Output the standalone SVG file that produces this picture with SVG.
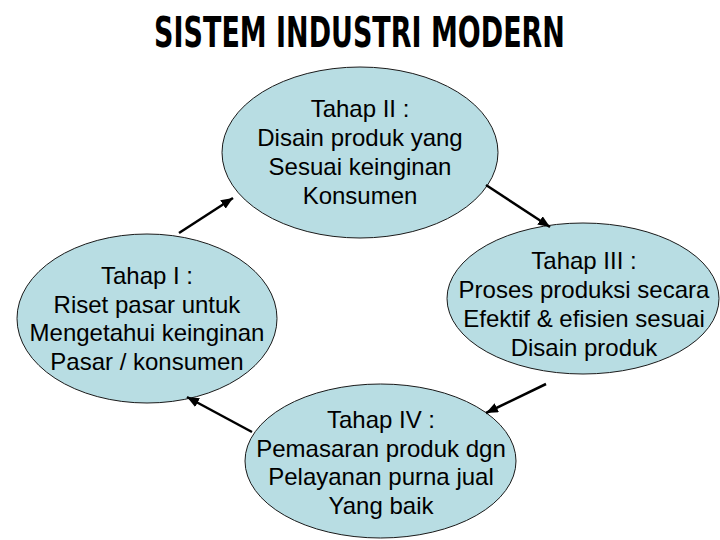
<svg xmlns="http://www.w3.org/2000/svg" width="720" height="540" viewBox="0 0 720 540">
  <style>
    .node ellipse { fill: #B8DDE3; stroke: #1a1a1a; stroke-width: 1; }
    .node text { font-family: "Liberation Sans", Arial, sans-serif; font-size: 24px; fill: #000; text-anchor: middle; }
    .title { font-family: "DejaVu Sans Condensed", "Liberation Sans Narrow", sans-serif; font-weight: bold; font-size: 42px; fill: #000; text-anchor: middle; }
    .conn line { stroke: #000; stroke-width: 2.5; marker-end: url(#arrow); }
  </style>
  <defs>
    <marker id="arrow" markerUnits="userSpaceOnUse" markerWidth="14" markerHeight="12" refX="12" refY="5" orient="auto">
      <path d="M0,0 L12,5 L0,10 Z" fill="#000"/>
    </marker>
  </defs>
  <rect width="720" height="540" fill="#fff"/>
  <text class="title" transform="translate(359.5,47) scale(0.714,1)" x="0" y="0">SISTEM INDUSTRI MODERN</text>

  <g id="tahap2" class="node">
    <ellipse cx="360" cy="152.5" rx="138" ry="85.5"/>
    <text x="360" y="117">Tahap II :</text>
    <text x="360" y="146">Disain produk yang</text>
    <text x="360" y="175">Sesuai keinginan</text>
    <text x="360" y="204">Konsumen</text>
  </g>

  <g id="tahap3" class="node">
    <ellipse cx="583" cy="298.5" rx="136" ry="75.5"/>
    <text x="584" y="269">Tahap III :</text>
    <text x="584" y="298">Proses produksi secara</text>
    <text x="584" y="327">Efektif &amp; efisien sesuai</text>
    <text x="584" y="356">Disain produk</text>
  </g>

  <g id="tahap1" class="node">
    <ellipse cx="147" cy="318.5" rx="130" ry="84.5"/>
    <text x="147" y="284">Tahap I :</text>
    <text x="147" y="312.5">Riset pasar untuk</text>
    <text x="147" y="341">Mengetahui keinginan</text>
    <text x="147" y="369.5">Pasar / konsumen</text>
  </g>

  <g id="tahap4" class="node">
    <ellipse cx="380.5" cy="461" rx="135.5" ry="77"/>
    <text x="381" y="428">Tahap IV :</text>
    <text x="381" y="456.5">Pemasaran produk dgn</text>
    <text x="381" y="485">Pelayanan purna jual</text>
    <text x="381" y="513.5">Yang baik</text>
  </g>

  <g id="connectors" class="conn">
    <line x1="179" y1="233" x2="233" y2="198"/>
    <line x1="486" y1="185" x2="550" y2="227"/>
    <line x1="546" y1="384" x2="486" y2="413"/>
    <line x1="252" y1="432" x2="187" y2="397"/>
  </g>
</svg>
